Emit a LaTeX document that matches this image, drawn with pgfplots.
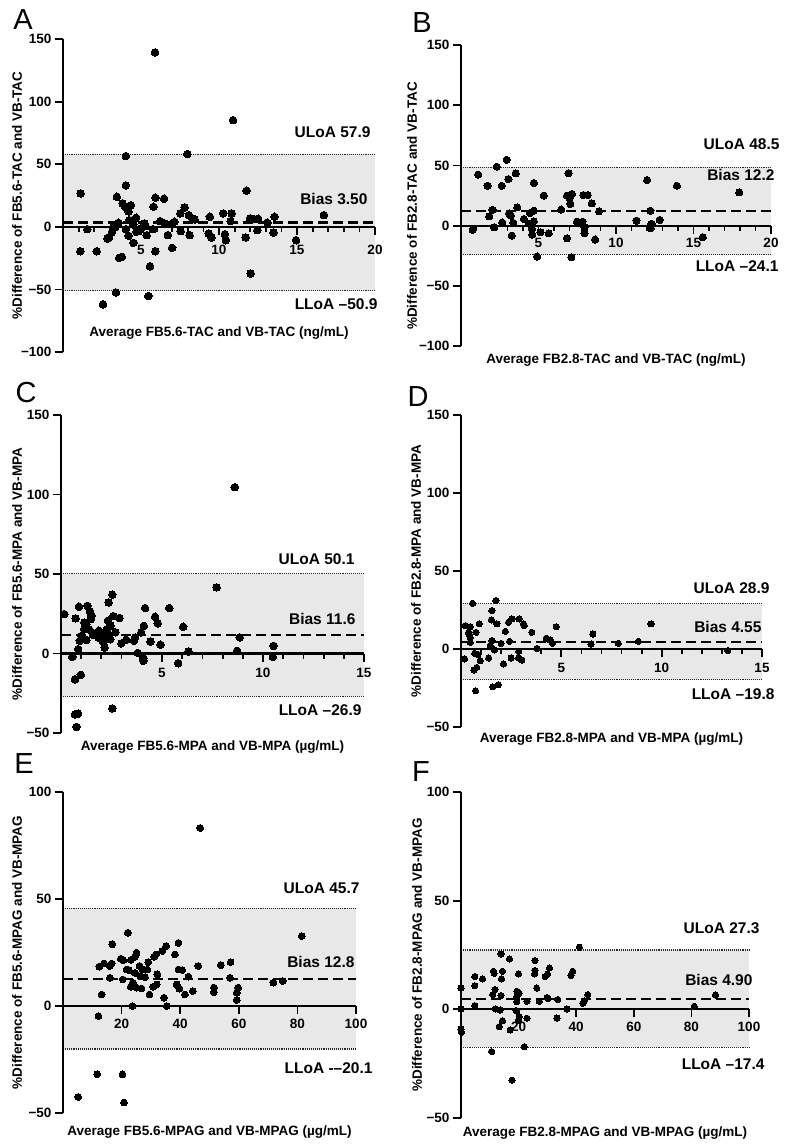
\documentclass[border=0pt]{standalone}
\usepackage{fontspec}
\setmainfont{Liberation Sans}
\usepackage{pgfplots}
\pgfplotsset{compat=1.18}
\newcommand\tfont{\fontsize{13.5}{15}\selectfont\bfseries}
\newcommand\afont{\fontsize{15.5}{18}\selectfont\bfseries}
\newcommand\lfont{\fontsize{29}{30}\selectfont}
\tikzset{xl/.style={font=\tfont, anchor=center, yshift=#1}}
\pgfplotsset{
 ba/.style={
  scale only axis, clip=false, axis on top,
  axis x line=middle, axis y line=left,
  axis line style={line width=2.2pt,-},
  xmin=0,
  tick style={black, line width=1.8pt},
  major tick length=8pt, minor tick length=5pt,
  xtick align=outside, ytick align=outside,
  tick label style={font=\tfont},
  label style={font=\tfont},
  /pgf/number format/assume math mode=true,
  xticklabels={},
  yticklabel style={anchor=east},
  xlabel style={anchor=center},
  ylabel style={anchor=center, rotate=0},
 },
 band/.style={draw=none, fill=black!9},
 loa/.style={black!85, line width=1.1pt, densely dotted},
 bias/.style={black, line width=2.2pt, dash pattern=on 10pt off 5pt},
 pts/.style={only marks, mark=*, mark size=#1, mark options={fill=black, draw=black, line width=0pt}},
}
\begin{document}
\begin{tikzpicture}
\useasboundingbox (0,0) rectangle (793pt,-1144pt);
% ---------------- A
\begin{axis}[ba, at={(63pt,-352pt)}, anchor=south west, width=312pt, height=313pt,
 xmax=20, ymin=-100, ymax=150, xtick={5,10,15,20}, minor xtick={1,2,...,19},
 ytick={-100,-50,0,50,100,150}, yticklabels={−100,−50,0,50,100,150},
 xlabel={Average FB5.6-TAC and VB-TAC (ng/mL)},
 ylabel={\%Difference of FB5.6-TAC and VB-TAC},
 xlabel style={at={(axis description cs:0.5,0.0607)}},
 ylabel style={at={(axis description cs:-0.1474,0.5)}}]
\addplot[band] coordinates {(0,-50.9) (20,-50.9) (20,57.9) (0,57.9)} -- cycle;
\addplot[loa] coordinates {(0,57.9) (20,57.9)};
\addplot[loa] coordinates {(0,-50.9) (20,-50.9)};
\addplot[bias] coordinates {(0,3.5) (20,3.5)};
\addplot[pts=3.8pt] coordinates {(5.9,139.3) (10.9,85.2) (4.03,56.5) (7.97,58.1) (1.13,26.7) (4.03,33.1) (11.77,28.8) (3.45,24) (5.92,23.2) (6.48,22.4) (3.82,18.7) (4.35,17.3) (3.97,16) (4.2,12.3) (5.8,16) (7.8,15.5) (7.52,10.7) (8.07,9.3) (8.29,6.7) (8.44,5.9) (9.41,8) (10.27,10.7) (10.81,10.7) (10.74,4.5) (11.99,6.7) (12.27,6.1) (12.5,6.4) (13.1,3.2) (13.56,8) (16.72,9.3) (4.68,7.2) (4.25,5.3) (5.22,2.7) (3.56,3.2) (4.03,-1.9) (4.89,-2.7) (5.36,-6.7) (6.23,4.5) (7.15,4) (6.93,2.1) (5.75,-1.9) (3.34,-0.5) (3.13,-4.5) (2.96,-8.5) (2.85,-9.3) (1.56,-1.9) (1.11,-19.5) (2.16,-19.5) (4.2,-7.2) (4.51,-12.8) (3.77,-24) (3.6,-24.8) (5.92,-19.5) (7.0,-16.8) (6.72,-6.7) (7.54,-3.5) (8.12,-6.7) (9.34,-5.3) (9.52,-8.5) (10.38,-5.9) (10.44,-10.7) (11.71,-8.5) (12.46,-2.7) (13.49,-4.5) (14.94,-10.7) (12.03,-37.3) (5.58,-31.5) (3.39,-52.5) (5.47,-55.2) (2.57,-61.9) (4.5,2) (4.7,-4) (5.0,-1.5) (5.3,0.5) (6.5,2.8) (3.3,1.5)};
\node[xl=-23pt] at (axis cs:5,0) {5};
\node[xl=-23pt] at (axis cs:10,0) {10};
\node[xl=-23pt] at (axis cs:15,0) {15};
\node[xl=-23pt] at (axis cs:20,0) {20};
\node[anchor=east, font=\afont, xshift=-1pt] at (axis cs:20,75.9) {ULoA 57.9};
\node[anchor=east, font=\afont, xshift=-4pt] at (axis cs:20,22.4) {Bias 3.50};
\node[anchor=east, font=\afont, xshift=6pt] at (axis cs:20,-61.5) {LLoA –50.9};
\end{axis}
% ---------------- B
\begin{axis}[ba, at={(461pt,-346pt)}, anchor=south west, width=310pt, height=301pt,
 xmax=20, ymin=-100, ymax=150, xtick={5,10,15,20}, minor xtick={1,2,...,19},
 ytick={-100,-50,0,50,100,150}, yticklabels={−100,−50,0,50,100,150},
 xlabel={Average FB2.8-TAC and VB-TAC (ng/mL)},
 ylabel={\%Difference of FB2.8-TAC and VB-TAC},
 xlabel style={at={(axis description cs:0.5,-0.0465)}},
 ylabel style={at={(axis description cs:-0.158,0.465)}}]
\addplot[band] coordinates {(0,-24.1) (20,-24.1) (20,48.5) (0,48.5)} -- cycle;
\addplot[loa] coordinates {(0,48.5) (20,48.5)};
\addplot[loa] coordinates {(0,-24.1) (20,-24.1)};
\addplot[bias] coordinates {(0,12.2) (20,12.2)};
\addplot[pts=3.6pt] coordinates {(2.95,54.6) (2.31,48.9) (1.11,42.3) (1.71,33.1) (2.63,33.1) (3.06,38.7) (3.53,43.4) (6.94,43.6) (4.7,35.4) (5.34,24.9) (6.84,24.9) (7.16,26.2) (7.01,22.9) (7.05,18) (7.9,25.4) (8.18,25.4) (8.44,18.5) (8.91,11.9) (6.47,13.3) (12.01,37.8) (13.93,33.1) (17.95,27.6) (12.22,12.4) (11.32,4.1) (12.29,1.4) (12.24,-2.2) (12.82,4.7) (15.6,-9.7) (8.65,-11.6) (6.84,-10.5) (7.97,-1.4) (7.97,-6.4) (7.84,3.3) (7.48,3.3) (4.91,-25.7) (7.12,-26.2) (0.75,-3.6) (1.82,7.7) (2.03,13) (2.14,-1.4) (2.67,2.5) (3.21,8.3) (3.63,15.2) (3.27,-8.3) (3.38,2.2) (4.06,5.5) (4.44,10.5) (4.7,12.4) (4.7,3.6) (4.59,-2.8) (4.59,-7.5) (5.13,-5.5) (5.66,-6.4) (4.42,1.4) (3.1,10)};
\node[xl=-17pt] at (axis cs:5,0) {5};
\node[xl=-17pt] at (axis cs:10,0) {10};
\node[xl=-17pt] at (axis cs:15,0) {15};
\node[xl=-17pt] at (axis cs:20,0) {20};
\node[anchor=east, font=\afont, xshift=12pt] at (axis cs:20,67.3) {ULoA 48.5};
\node[anchor=east, font=\afont, xshift=7pt] at (axis cs:20,42.4) {Bias 12.2};
\node[anchor=east, font=\afont, xshift=11pt] at (axis cs:20,-34.1) {LLoA –24.1};
\end{axis}
% ---------------- C
\begin{axis}[ba, at={(61pt,-733pt)}, anchor=south west, width=303pt, height=318pt,
 xmax=15, ymin=-50, ymax=150, xtick={5,10,15}, minor xtick={1,2,...,14},
 ytick={-50,0,50,100,150}, yticklabels={−50,0,50,100,150},
 xlabel={Average FB5.6-MPA and VB-MPA (µg/mL)},
 ylabel={\%Difference of FB5.6-MPA and VB-MPA},
 xlabel style={at={(axis description cs:0.5,-0.044)}},
 ylabel style={at={(axis description cs:-0.145,0.5)}}]
\addplot[band] coordinates {(0,-26.9) (15,-26.9) (15,50.1) (0,50.1)} -- cycle;
\addplot[loa] coordinates {(0,50.1) (15,50.1)};
\addplot[loa] coordinates {(0,-26.9) (15,-26.9)};
\addplot[bias] coordinates {(0,11.6) (15,11.6)};
\addplot[pts=3.8pt] coordinates {(8.6,104.6) (0.16,24.8) (0.72,22.1) (0.89,29.4) (1.31,30) (1.43,26.5) (1.51,23.7) (1.48,21.6) (1.15,19.5) (1.26,18.5) (1.15,15.3) (1.02,11.1) (1.26,8.4) (0.93,8) (0.85,2.7) (0.56,-2.1) (1.59,11.6) (1.87,14.3) (2.0,12.2) (1.97,9.7) (2.08,7.4) (2.16,3.8) (2.28,15.3) (2.33,20.6) (2.36,32.1) (2.54,37) (2.59,23.5) (2.9,22.3) (2.69,13.4) (2.44,9) (2.98,6.3) (3.23,8.6) (3.61,8) (3.67,10.1) (3.97,13.2) (4.1,17.4) (4.16,28.6) (3.8,0.4) (4.07,-2.9) (4.08,-4.6) (4.43,7.6) (4.66,23.1) (4.79,18.9) (4.92,5.5) (5.36,28.6) (5.8,-6.1) (6.05,16.8) (6.31,1.3) (7.7,41.6) (8.72,1.7) (8.85,10.1) (10.52,4.8) (10.49,-2.1) (0.69,-16.2) (0.98,-13.4) (0.69,-38.2) (0.85,-37.8) (0.77,-46.2) (2.54,-34.5) (1.75,13) (2.05,12.5) (2.25,14.5) (1.85,10) (2.35,11.5) (1.4,15) (2.45,17.5)};
\node[xl=-19pt] at (axis cs:5,0) {5};
\node[xl=-19pt] at (axis cs:10,0) {10};
\node[xl=-19pt] at (axis cs:15,0) {15};
\node[anchor=east, font=\afont, xshift=-6pt] at (axis cs:15,59.1) {ULoA 50.1};
\node[anchor=east, font=\afont, xshift=-5pt] at (axis cs:15,22.0) {Bias 11.6};
\node[anchor=east, font=\afont, xshift=1pt] at (axis cs:15,-35.8) {LLoA –26.9};
\end{axis}
% ---------------- D
\begin{axis}[ba, at={(461pt,-727pt)}, anchor=south west, width=301pt, height=312pt,
 xmax=15, ymin=-50, ymax=150, xtick={5,10,15}, minor xtick={1,2,...,14},
 ytick={-50,0,50,100,150}, yticklabels={−50,0,50,100,150},
 xlabel={Average FB2.8-MPA and VB-MPA (µg/mL)},
 ylabel={\%Difference of FB2.8-MPA and VB-MPA},
 xlabel style={at={(axis description cs:0.5,-0.0385)}},
 ylabel style={at={(axis description cs:-0.1495,0.5)}}]
\addplot[band] coordinates {(0,-19.8) (15,-19.8) (15,28.9) (0,28.9)} -- cycle;
\addplot[loa] coordinates {(0,28.9) (15,28.9)};
\addplot[loa] coordinates {(0,-19.8) (15,-19.8)};
\addplot[bias] coordinates {(0,4.55) (15,4.55)};
\addplot[pts=3.1pt] coordinates {(0.58,29.3) (1.74,31.0) (1.54,24.6) (1.51,18.6) (1.79,16.1) (0.22,15) (0.46,14.3) (0.91,16.1) (0.75,10.7) (0.38,10.7) (0.46,7.5) (0.46,4.3) (2.37,17.1) (2.54,19.3) (2.9,19.3) (3.12,16.1) (3.15,15) (2.21,11.3) (2.42,4.9) (3.53,10.7) (4.74,14.3) (4.25,6.9) (4.44,5.8) (4.56,3.6) (3.78,0.4) (1.46,2.1) (1.67,-0.6) (2.0,3.6) (1.54,5.4) (0.68,-2.8) (0.96,-7.5) (0.18,-6.4) (1.38,-5.8) (2.5,-5.8) (2.87,-1.5) (2.87,-5.8) (3.03,-7.1) (2.12,-9.6) (6.57,9.6) (6.48,3.2) (7.84,3.6) (8.84,4.9) (9.47,16.1) (13.3,-1) (0.65,-13.5) (0.78,-11.8) (0.73,-26.8) (1.59,-24.2) (1.86,-22.9) (0.4,9.6) (0.85,-3.5)};
\node[xl=-19pt] at (axis cs:5,0) {5};
\node[xl=-19pt] at (axis cs:10,0) {10};
\node[xl=-19pt] at (axis cs:15,0) {15};
\node[anchor=east, font=\afont, xshift=11pt] at (axis cs:15,39.1) {ULoA 28.9};
\node[anchor=east, font=\afont, xshift=3pt] at (axis cs:15,14.1) {Bias 4.55};
\node[anchor=east, font=\afont, xshift=16pt] at (axis cs:15,-28.8) {LLoA –19.8};
\end{axis}
% ---------------- E
\begin{axis}[ba, at={(63pt,-1113pt)}, anchor=south west, width=293pt, height=321pt,
 xmax=100, ymin=-50, ymax=100, xtick={20,40,60,80,100},
 ytick={-50,0,50,100}, yticklabels={−50,0,50,100},
 xlabel={Average FB5.6-MPAG and VB-MPAG (µg/mL)},
 ylabel={\%Difference of FB5.6-MPAG and VB-MPAG},
 xlabel style={at={(axis description cs:0.5,-0.059)}},
 ylabel style={at={(axis description cs:-0.157,0.5)}}]
\addplot[band] coordinates {(0,-20.1) (100,-20.1) (100,45.7) (0,45.7)} -- cycle;
\addplot[loa] coordinates {(0,45.7) (100,45.7)};
\addplot[loa] coordinates {(0,-20.1) (100,-20.1)};
\addplot[bias] coordinates {(0,12.8) (100,12.8)};
\addplot[pts=3.4pt] coordinates {(46.8,83.2) (81.5,32.7) (22.1,34.2) (16.8,28.8) (39.4,29.5) (35.2,28) (33.9,25.7) (31.7,24.1) (31.1,23.0) (25.1,24.9) (24.6,23) (38.2,24.1) (23.2,21.5) (19.7,22.1) (20.6,21.4) (29.1,20.5) (16.6,19.9) (14.0,19.9) (12.4,18.4) (21.7,17.1) (26.1,18.7) (27.2,17.1) (28.8,17.1) (39.4,17.1) (40.7,16.8) (46.2,18.7) (53.9,19.1) (57.2,20.5) (16.0,13.2) (20.4,12.4) (26.3,14) (32.2,14.8) (42.8,13.7) (57,13.2) (23.8,10.9) (25.1,8.6) (26.8,8.2) (23.1,9) (32,10.1) (30.8,9) (38.8,10.1) (39.7,8.1) (44.3,7) (41.6,5.4) (51.5,8.6) (51.5,6.5) (59.8,8.6) (59.3,6.2) (71.8,10.9) (75,11.7) (13.2,5.4) (29.5,5.4) (34.5,3.9) (35.4,0) (23.7,0) (12.1,-4.7) (11.7,-31.9) (20.3,-31.9) (5.2,-42.5) (20.8,-45.1) (59.3,2.8) (16,18.7) (24.5,15.5) (28,13.5) (22.5,16.8)};
\node[xl=-18pt] at (axis cs:20,0) {20};
\node[xl=-18pt] at (axis cs:40,0) {40};
\node[xl=-18pt] at (axis cs:60,0) {60};
\node[xl=-18pt] at (axis cs:80,0) {80};
\node[xl=-18pt] at (axis cs:100,0) {100};
\node[anchor=east, font=\afont, xshift=7pt] at (axis cs:100,55.1) {ULoA 45.7};
\node[anchor=east, font=\afont, xshift=2pt] at (axis cs:100,20.6) {Bias 12.8};
\node[anchor=east, font=\afont, xshift=20pt] at (axis cs:100,-29.0) {LLoA -–20.1};
\end{axis}
% ---------------- F
\begin{axis}[ba, at={(461pt,-1118pt)}, anchor=south west, width=288pt, height=326pt,
 xmax=100, ymin=-50, ymax=100, xtick={20,40,60,80,100},
 ytick={-50,0,50,100}, yticklabels={−50,0,50,100},
 xlabel={Average FB2.8-MPAG and VB-MPAG (µg/mL)},
 ylabel={\%Difference of FB2.8-MPAG and VB-MPAG},
 xlabel style={at={(axis description cs:0.5,-0.046)}},
 ylabel style={at={(axis description cs:-0.153,0.5)}}]
\addplot[band] coordinates {(0,-17.4) (100,-17.4) (100,27.3) (0,27.3)} -- cycle;
\addplot[loa] coordinates {(0,27.3) (100,27.3)};
\addplot[loa] coordinates {(0,-17.4) (100,-17.4)};
\addplot[bias] coordinates {(0,4.9) (100,4.9)};
\addplot[pts=3.1pt] coordinates {(41.1,28.6) (13.9,25.5) (16.8,23.2) (25.7,22.4) (25.7,17.8) (25.5,16.3) (30.7,19.0) (30.1,16.3) (29.2,15.1) (38.8,17.5) (38.2,15.5) (20.0,16.3) (11.3,17.5) (11.5,16.6) (14.4,17.5) (14.1,14) (7.5,14) (4.8,15.1) (4.8,10.9) (11.8,9.1) (11.0,6.8) (13.9,6.3) (26.3,9.8) (19.4,8.3) (20.2,7.4) (19.4,5.8) (19.4,3.5) (22.9,3.7) (27.2,3.7) (29.9,5.5) (33.6,4.5) (44.0,6.8) (42.8,4) (42.3,2.8) (36.8,0.2) (4.8,1.7) (0,9.8) (0,0.2) (0,-9.1) (11.9,0.2) (13.6,-0.3) (19.1,-0.6) (20.2,-3.4) (22.9,-4.1) (19.9,-5.2) (14.4,-5.2) (13.3,-8) (17.1,-9.5) (33.3,-4.0) (10.6,-19.4) (22.0,-17.2) (17.7,-32.6) (88.4,6.6) (81.0,1.4) (0.2,-10.5) (30.2,5)};
\node[xl=-18pt] at (axis cs:20,0) {20};
\node[xl=-18pt] at (axis cs:40,0) {40};
\node[xl=-18pt] at (axis cs:60,0) {60};
\node[xl=-18pt] at (axis cs:80,0) {80};
\node[xl=-18pt] at (axis cs:100,0) {100};
\node[anchor=east, font=\afont, xshift=14pt] at (axis cs:100,37.3) {ULoA 27.3};
\node[anchor=east, font=\afont, xshift=7pt] at (axis cs:100,13.3) {Bias 4.90};
\node[anchor=east, font=\afont, xshift=19pt] at (axis cs:100,-25.3) {LLoA –17.4};
\end{axis}
% panel letters
\node[font=\lfont] at (23pt,-20pt) {A};
\node[font=\lfont] at (422pt,-23pt) {B};
\node[font=\lfont] at (26pt,-393pt) {C};
\node[font=\lfont] at (418pt,-397pt) {D};
\node[font=\lfont] at (24pt,-764pt) {E};
\node[font=\lfont] at (421pt,-772pt) {F};
\end{tikzpicture}
\end{document}
